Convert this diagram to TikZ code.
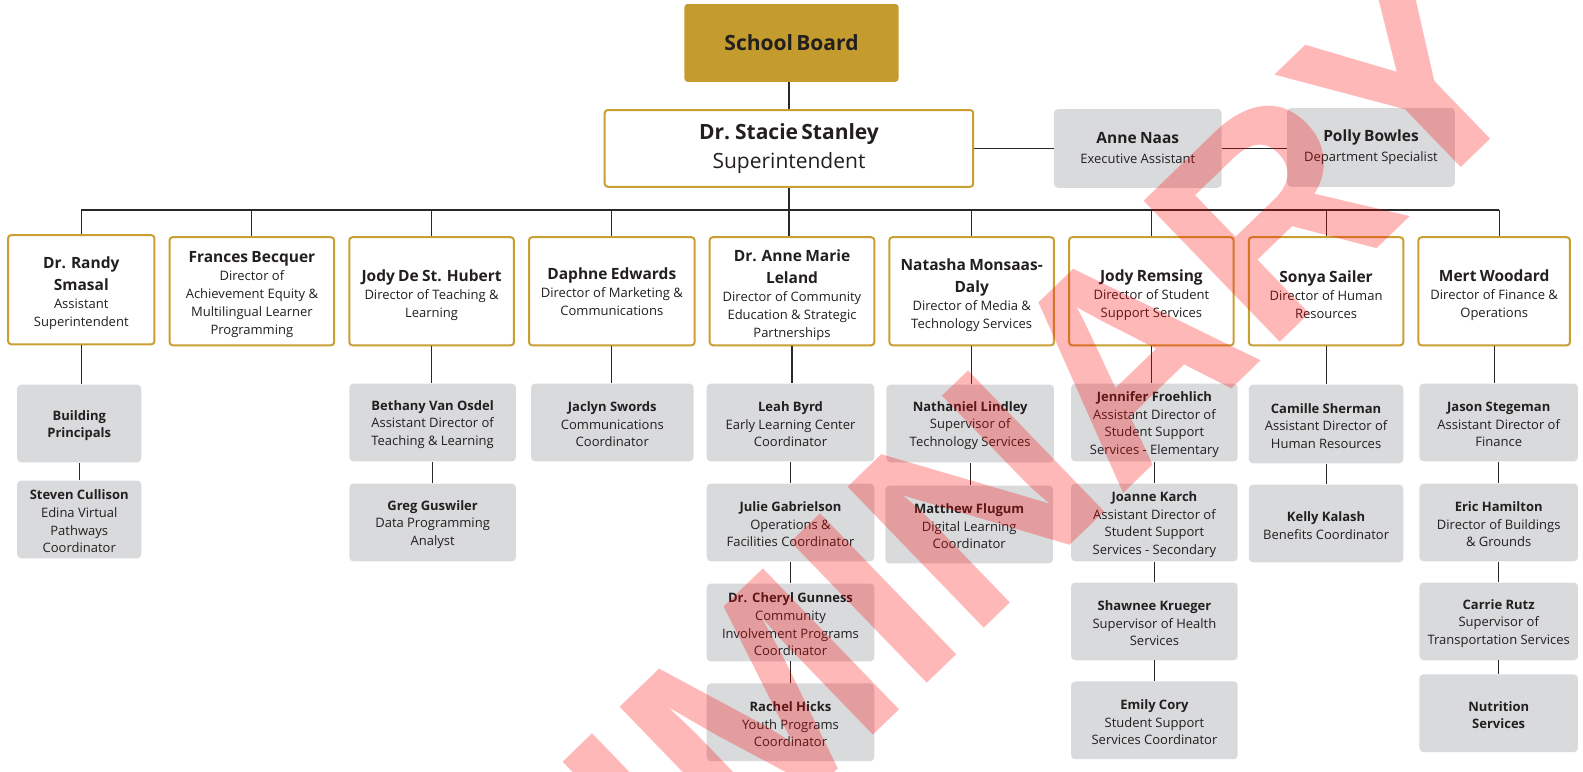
\documentclass[tikz,border=0pt]{standalone}
\usepackage{fontspec}
\setmainfont{Open Sans}
\newfontfamily\wmfont{Liberation Sans}

\definecolor{gold}{RGB}{196,155,45}
\definecolor{goldline}{RGB}{201,159,50}
\definecolor{card}{RGB}{217,218,220}
\definecolor{ink}{RGB}{35,31,32}
\definecolor{wirec}{RGB}{40,40,40}

\tikzset{
  topbox/.style={fill=gold, rounded corners=3pt, inner sep=0pt},
  topbox text/.style={},
  lead/.style={draw=goldline, line width=2pt, fill=white, rounded corners=3pt, inner sep=0pt},
  lead text/.style={yshift=-3.5pt},
  chief/.style={lead},
  chief text/.style={},
  leadflat/.style={lead},
  leadflat text/.style={yshift=-0.5pt},
  staff/.style={fill=card, rounded corners=4pt, inner sep=0pt},
  staff text/.style={yshift=-2pt},
  aide/.style={staff},
  aide text/.style={},
  label/.style={inner sep=0pt, align=center, text=ink},
  wire/.style={draw=wirec, line width=1.1pt},
}

% name, style, x1, y1, x2, y2, contents: a box and its centred text
\newcommand\bx[7]{%
  \pgfmathsetmacro\bw{(#5-#3)*1.0096}%
  \pgfmathsetmacro\bh{(#6-#4)*1.0096}%
  \node[#2, minimum width=\bw pt, minimum height=\bh pt] (#1) at ({(#3+#5)/2},{(#4+#6)/2}) {};
  \node[label, #2 text, text width=\bw pt] (#1-t) at (#1.center) {#7};}

\newcommand\nmA{\bfseries\fontsize{15.5}{22}\selectfont}
\newcommand\ttA{\fontsize{13}{18}\selectfont}
\newcommand\nmB{\bfseries\fontsize{13}{17.6}\selectfont}
\newcommand\ttB{\fontsize{13}{17.6}\selectfont}
\newcommand\lead[2]{{\nmA #1\par}{\ttA #2\par}}
\newcommand\staff[2]{{\nmB #1\par}{\ttB #2\par}}

\begin{document}
\begin{tikzpicture}[x=1.0096pt, y=-1.0096pt]
\useasboundingbox (0,0) rectangle (1568,764);

% top of the chart
\bx{board}{topbox}{678}{4}{890}{81}{\bfseries\fontsize{21}{26}\selectfont School Board}
\bx{supt}{chief}{599}{109}{964}{185}{{\bfseries\fontsize{21}{29}\selectfont Dr. Stacie Stanley\par}{\fontsize{21}{29}\selectfont Superintendent\par}}
\bx{naas}{aide}{1044}{108}{1210}{186}{{\bfseries\fontsize{15.5}{20}\selectfont Anne Naas\par}{\fontsize{13}{20}\selectfont Executive Assistant\par}}
\bx{polly}{aide}{1275}{107}{1441}{185}{{\bfseries\fontsize{15.5}{20}\selectfont Polly Bowles\par}{\fontsize{13}{20}\selectfont Department Specialist\par}}

% directors
\bx{randy}{lead}{8}{233}{153}{341}{\lead{Dr. Randy\\Smasal}{Assistant\\Superintendent}}
\bx{frances}{lead}{168}{235}{331}{342}{\lead{Frances Becquer}{Director of\\Achievement Equity \&\\Multilingual Learner\\Programming}}
\bx{jodyd}{lead}{346}{235}{509}{342}{\lead{Jody De St. Hubert}{Director of Teaching \&\\Learning}}
\bx{daphne}{leadflat}{524}{235}{688}{342}{\lead{Daphne Edwards}{Director of Marketing \&\\Communications}}
\bx{leland}{lead}{703}{235}{866}{342}{\lead{Dr. Anne Marie\\Leland}{Director of Community\\Education \& Strategic\\Partnerships}}
\bx{natasha}{lead}{881}{235}{1044}{342}{\lead{Natasha Monsaas-\\Daly}{Director of Media \&\\Technology Services}}
\bx{remsing}{lead}{1059}{235}{1222}{342}{\lead{Jody Remsing}{Director of Student\\Support Services}}
\bx{sonya}{lead}{1237}{235}{1390}{342}{\lead{Sonya Sailer}{Director of Human\\Resources}}
\bx{mert}{lead}{1405}{235}{1555}{342}{\lead{Mert Woodard}{Director of Finance \&\\Operations}}

% staff
\bx{bp}{staff}{17}{381}{140}{458}{{\nmB Building\\Principals\par}}
\bx{steven}{staff}{17}{476}{140}{553}{\staff{Steven Cullison}{Edina Virtual\\Pathways\\Coordinator}}
\bx{bethany}{staff}{346}{380}{511}{457}{\staff{Bethany Van Osdel}{Assistant Director of\\Teaching \& Learning}}
\bx{greg}{staff}{346}{479}{511}{556}{\staff{Greg Guswiler}{Data Programming\\Analyst}}
\bx{jaclyn}{staff}{526}{380}{687}{457}{\staff{Jaclyn Swords}{Communications\\Coordinator}}
\bx{leah}{staff}{700}{380}{866}{457}{\staff{Leah Byrd}{Early Learning Center\\Coordinator}}
\bx{julie}{staff}{700}{479}{866}{556}{\staff{Julie Gabrielson}{Operations \&\\Facilities Coordinator}}
\bx{cheryl}{staff}{700}{578}{866}{655}{\staff{Dr. Cheryl Gunness}{Community\\Involvement Programs\\Coordinator}}
\bx{rachel}{staff}{700}{677}{866}{754}{\staff{Rachel Hicks}{Youth Programs\\Coordinator}}
\bx{nathaniel}{staff}{878}{381}{1044}{458}{\staff{Nathaniel Lindley}{Supervisor of\\Technology Services}}
\bx{matthew}{staff}{877}{481}{1043}{558}{\staff{Matthew Flugum}{Digital Learning\\Coordinator}}
\bx{jennifer}{staff}{1061}{380}{1226}{457}{\staff{Jennifer Froehlich}{Assistant Director of\\Student Support\\Services - Elementary}}
\bx{joanne}{staff}{1061}{479}{1226}{556}{\staff{Joanne Karch}{Assistant Director of\\Student Support\\Services - Secondary}}
\bx{shawnee}{staff}{1061}{577}{1226}{654}{\staff{Shawnee Krueger}{Supervisor of Health\\Services}}
\bx{emily}{staff}{1061}{675}{1226}{752}{\staff{Emily Cory}{Student Support\\Services Coordinator}}
\bx{camille}{staff}{1237}{381}{1390}{459}{\staff{Camille Sherman}{Assistant Director of\\Human Resources}}
\bx{kelly}{staff}{1237}{480}{1390}{557}{\staff{Kelly Kalash}{Benefits Coordinator}}
\bx{jason}{staff}{1406}{380}{1563}{457}{\staff{Jason Stegeman}{Assistant Director of\\Finance}}
\bx{eric}{staff}{1406}{479}{1563}{556}{\staff{Eric Hamilton}{Director of Buildings\\\& Grounds}}
\bx{carrie}{staff}{1406}{577}{1563}{654}{\staff{Carrie Rutz}{Supervisor of\\Transportation Services}}
\bx{nutrition}{staff}{1406}{668}{1563}{745}{{\nmB Nutrition\\Services\par}}

% connectors
\coordinate (bus) at (0,208);
\coordinate (mertdrop) at ([xshift=5pt]mert.north);
\draw[wire] (supt.north) -- (supt.north |- board.south);
\draw[wire] (supt.east) -- (supt.east -| naas.west);
\draw[wire] (naas.east) -- (naas.east -| polly.west);
\draw[wire] (supt.south) -- (supt.south |- leland.north);
\draw[wire] (randy.north |- bus) -- (mertdrop |- bus);
\foreach \d in {randy,frances,jodyd,daphne,natasha,remsing,sonya}
  \draw[wire] (\d.north) -- (\d.north |- bus);
\draw[wire] (mertdrop) -- (mertdrop |- bus);
\foreach \a/\b in {randy/bp, bp/steven, jodyd/bethany, bethany/greg, daphne/jaclyn,
  leland/leah, leah/julie, julie/cheryl, cheryl/rachel, natasha/nathaniel, nathaniel/matthew,
  remsing/jennifer, jennifer/joanne, joanne/shawnee, shawnee/emily, sonya/camille, camille/kelly,
  mert/jason, jason/eric, eric/carrie, carrie/nutrition}
  \draw[wire] (\a.south) -- (\a.south |- \b.north);

% draft stamp across the chart
\node[rotate=44, text=red, text opacity=0.28, inner sep=0pt,
  font=\wmfont\bfseries\fontsize{285}{285}\selectfont] (stamp) at (766,689) {PRELIMINARY};
\end{tikzpicture}
\end{document}
